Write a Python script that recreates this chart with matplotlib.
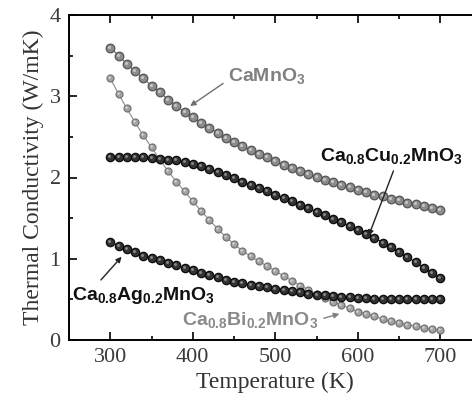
import numpy as np
import matplotlib
matplotlib.use("Agg")
import matplotlib.pyplot as plt
import matplotlib.transforms as mtransforms
from matplotlib.ticker import MultipleLocator

plt.rcParams['mathtext.fontset'] = 'custom'
plt.rcParams['mathtext.rm'] = 'Liberation Sans:bold'
plt.rcParams['mathtext.bf'] = 'Liberation Sans:bold'
plt.rcParams['mathtext.it'] = 'Liberation Sans:bold'

temp = list(range(300, 710, 10))

k_camno3 = [3.60, 3.50, 3.40, 3.31, 3.22, 3.13, 3.05, 2.96, 2.88, 2.81,
            2.74, 2.67, 2.61, 2.55, 2.49, 2.44, 2.39, 2.34, 2.29, 2.25,
            2.20, 2.16, 2.12, 2.08, 2.04, 2.01, 1.97, 1.94, 1.91, 1.88,
            1.85, 1.82, 1.79, 1.77, 1.74, 1.72, 1.69, 1.67, 1.65, 1.62, 1.60]
k_cu = [2.25, 2.25, 2.25, 2.25, 2.25, 2.24, 2.23, 2.22, 2.21, 2.19,
        2.17, 2.14, 2.11, 2.07, 2.03, 1.99, 1.95, 1.91, 1.87, 1.83,
        1.79, 1.75, 1.71, 1.66, 1.62, 1.58, 1.54, 1.49, 1.45, 1.40,
        1.36, 1.31, 1.26, 1.20, 1.14, 1.08, 1.02, 0.96, 0.89, 0.82, 0.76]
k_ag = [1.21, 1.16, 1.12, 1.08, 1.04, 1.01, 0.98, 0.95, 0.92, 0.89,
        0.86, 0.83, 0.80, 0.78, 0.74, 0.72, 0.70, 0.68, 0.67, 0.65,
        0.63, 0.62, 0.60, 0.59, 0.57, 0.56, 0.55, 0.54, 0.53, 0.53,
        0.52, 0.52, 0.51, 0.51, 0.51, 0.51, 0.50, 0.50, 0.50, 0.50, 0.50]
k_bi = [3.22, 3.03, 2.85, 2.68, 2.52, 2.37, 2.22, 2.08, 1.95, 1.83,
        1.71, 1.59, 1.48, 1.37, 1.27, 1.18, 1.10, 1.03, 0.97, 0.91,
        0.85, 0.79, 0.73, 0.67, 0.62, 0.57, 0.52, 0.47, 0.43, 0.39,
        0.35, 0.32, 0.29, 0.26, 0.23, 0.21, 0.19, 0.17, 0.15, 0.13, 0.12]

fig = plt.figure(figsize=(4.72, 4.05), dpi=100)
ax = fig.add_axes([69/472, 65/405, 412.5/472, 325/405])

# small highlight offset up-left to give the balls a 3D look
hl = ax.transData + mtransforms.ScaledTranslation(-1.0/100, 1.0/100, fig.dpi_scale_trans)


def balls(y, ms, body, rim, shine, line):
    ax.plot(temp, y, '-', color=line, lw=0.8, marker='o', ms=ms,
            mfc=body, mec=rim, mew=0.9)
    ax.plot(temp, y, 'o', ms=ms * 0.35, mfc=shine, mec='none', transform=hl)


balls(k_camno3, 6.2, '#8c8c8c', '#555555', '#c8c8c8', '#666666')
balls(k_bi, 5.0, '#a2a2a2', '#747474', '#d6d6d6', '#8a8a8a')
balls(k_cu, 6.0, '#333333', '#0d0d0d', '#8a8a8a', '#111111')
balls(k_ag, 6.0, '#333333', '#0d0d0d', '#8a8a8a', '#111111')

ax.set_xlim(250, 750)
ax.set_ylim(0, 4)
ax.xaxis.set_major_locator(MultipleLocator(100))
ax.xaxis.set_minor_locator(MultipleLocator(50))
ax.yaxis.set_major_locator(MultipleLocator(1))
ax.yaxis.set_minor_locator(MultipleLocator(0.5))
ax.tick_params(which='both', direction='in', top=True, right=False, width=1.2)
ax.tick_params(which='major', length=6, pad=6)
ax.tick_params(which='minor', length=3)
for s in ['left', 'bottom', 'top']:
    ax.spines[s].set_linewidth(1.4)
ax.spines['right'].set_visible(False)

for lab in ax.get_xticklabels() + ax.get_yticklabels():
    lab.set_family('Liberation Serif')
    lab.set_fontsize(16)
    lab.set_color('#3a3a3a')

ax.set_xlabel('Temperature (K)', family='Liberation Serif', fontsize=17,
              color='#333333', labelpad=3)
ax.set_ylabel('Thermal Conductivity (W/mK)', family='Liberation Serif',
              fontsize=17, color='#333333', labelpad=4)

arw = dict(arrowstyle='-|>', lw=1.0, mutation_scale=8)
ax.annotate(r'CaMnO$_3$', xy=(394, 2.86), xytext=(443, 3.25),
            fontsize=14, fontweight='bold', family='Liberation Sans',
            color='#808080', va='center',
            arrowprops=dict(color='#707070', relpos=(0.0, 0.3), **arw))
ax.annotate(r'Ca$_{0.8}$Cu$_{0.2}$MnO$_3$', xy=(612, 1.25), xytext=(554, 2.27),
            fontsize=14, family='Liberation Sans', fontweight='bold',
            color='#111111', va='center',
            arrowprops=dict(color='#222222', relpos=(0.53, 0.0), **arw))
ax.annotate(r'Ca$_{0.8}$Ag$_{0.2}$MnO$_3$', xy=(316, 1.05), xytext=(254, 0.55),
            fontsize=14, family='Liberation Sans', fontweight='bold',
            color='#111111', va='center',
            arrowprops=dict(color='#222222', relpos=(0.17, 1.0), **arw))
ax.annotate(r'Ca$_{0.8}$Bi$_{0.2}$MnO$_3$', xy=(581, 0.33), xytext=(387, 0.25),
            fontsize=14, family='Liberation Sans', fontweight='bold',
            color='#8a8a8a', va='center',
            arrowprops=dict(color='#808080', relpos=(1.0, 0.5), **arw))

fig.savefig('out.png', dpi=100)
